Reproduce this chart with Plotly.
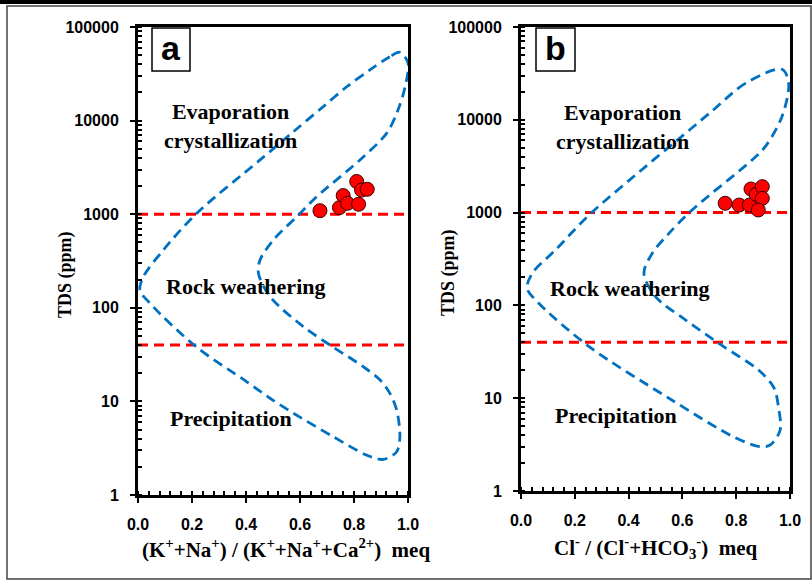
import plotly.graph_objects as go

# ---------------- data ----------------
# Panel a: Gibbs boundary (closed loop), x = (K+Na)/(K+Na+Ca), y = TDS (ppm)
gibbs_a_x = [0.970, 0.933, 0.859, 0.773, 0.685, 0.574, 0.452, 0.217, 0.094, 0.020, 0.007,
             0.044, 0.217, 0.403, 0.489, 0.575, 0.723, 0.847, 0.909, 0.958, 0.970, 0.958,
             0.933, 0.896, 0.834, 0.723, 0.612, 0.489, 0.446,
             0.452, 0.501, 0.588, 0.662, 0.822, 0.922, 0.963, 0.989, 1.000, 0.970]
gibbs_a_y = [53700, 48200, 34800, 23000, 14000, 7550, 3800, 1020, 415, 215, 155,
             112, 38, 16.2, 10.8, 7.5, 4.2, 2.67, 2.4, 2.9, 4.2, 8.1,
             12.2, 17, 23.5, 38, 63, 132, 234,
             324, 530, 940, 1540, 3800, 7400, 13000, 22900, 41200, 53700]

# Panel b: Gibbs boundary, x = Cl/(Cl+HCO3)
gibbs_b_x = [0.970, 0.834, 0.710, 0.587, 0.463, 0.253, 0.128, 0.042, 0.023,
             0.067, 0.253, 0.550, 0.789, 0.889, 0.926, 0.963, 0.957, 0.940,
             0.884, 0.747, 0.611, 0.500, 0.457,
             0.488, 0.550, 0.636, 0.859, 0.908, 0.970, 0.995, 0.970]
gibbs_b_y = [35000, 24700, 12400, 6240, 3130, 942, 395, 222, 153,
             105, 36, 10, 3.85, 3.0, 3.13, 4.5, 8.1, 13,
             20, 37, 70, 124, 222,
             364, 598, 1067, 3690, 5130, 10800, 24700, 35000]

# Samples
samples_a_x = [0.674, 0.746, 0.760, 0.776, 0.817, 0.810, 0.828, 0.849]
samples_a_y = [1090, 1175, 1580, 1308, 1276, 2235, 1810, 1846]
samples_b_x = [0.759, 0.811, 0.849, 0.855, 0.874, 0.897, 0.897, 0.882]
samples_b_y = [1260, 1205, 1205, 1795, 1575, 1905, 1425, 1067]

# Boundary lines (TDS ppm)
tds_limits = [1000, 40]

y_tickvals = [1, 10, 100, 1000, 10000, 100000]
y_ticktext = ["1", "10", "100", "1000", "10000", "100000"]
x_tickvals = [0.0, 0.2, 0.4, 0.6, 0.8, 1.0]
x_ticktext = ["0.0", "0.2", "0.4", "0.6", "0.8", "1.0"]

W, H = 812, 580
BLUE = "#0070C0"
RED = "#FF0000"
SERIF = "Liberation Serif"
SANS = "Liberation Sans"

fig = go.Figure()

for gx, gy, sx, sy, xa, ya in [
    (gibbs_a_x, gibbs_a_y, samples_a_x, samples_a_y, "x", "y"),
    (gibbs_b_x, gibbs_b_y, samples_b_x, samples_b_y, "x2", "y2"),
]:
    for lim in tds_limits:
        fig.add_trace(go.Scatter(x=[0, 1], y=[lim, lim], mode="lines",
                                 line=dict(color=RED, width=3, dash="10px,6px"),
                                 xaxis=xa, yaxis=ya, showlegend=False, hoverinfo="skip"))
    fig.add_trace(go.Scatter(x=gx, y=gy, mode="lines",
                             line=dict(color=BLUE, width=2.8, dash="10px,6px", shape="spline", smoothing=0.9),
                             xaxis=xa, yaxis=ya, showlegend=False, hoverinfo="skip", cliponaxis=False))
    fig.add_trace(go.Scatter(x=sx, y=sy, mode="markers",
                             marker=dict(color=RED, size=14, line=dict(color="#3a0000", width=1)),
                             xaxis=xa, yaxis=ya, showlegend=False))

def px_x(p):
    return p / W

def px_y(p):
    return 1 - p / H

common_x = dict(range=[0, 1], tickvals=x_tickvals, ticktext=x_ticktext, automargin=False,
                showline=True, linewidth=3, linecolor="black", mirror=True,
                ticks="outside", ticklen=5, tickwidth=2, tickcolor="black", ticklabelstandoff=8,
                minor=dict(ticks="inside", ticklen=4, tickwidth=1.5, tickcolor="black", dtick=0.04, showgrid=False),
                showgrid=False, zeroline=False,
                tickfont=dict(family=SANS, size=16, color="black", weight="bold"))
common_y = dict(type="log", range=[0, 5], tickvals=y_tickvals, ticktext=y_ticktext, automargin=False,
                showline=True, linewidth=3, linecolor="black", mirror=True,
                ticks="outside", ticklen=5, tickwidth=2, tickcolor="black", ticklabelstandoff=8,
                minor=dict(ticks="inside", ticklen=4, tickwidth=1.5, tickcolor="black", dtick="D1", showgrid=False),
                showgrid=False, zeroline=False,
                tickfont=dict(family=SANS, size=16, color="black", weight="bold"))

fig.update_layout(
    width=W, height=H, margin=dict(l=0, r=0, t=0, b=0, autoexpand=False),
    paper_bgcolor="white", plot_bgcolor="white",
    xaxis=dict(common_x, domain=[px_x(138), px_x(408)], anchor="y"),
    yaxis=dict(common_y, domain=[px_y(495), px_y(27)], anchor="x"),
    xaxis2=dict(common_x, domain=[px_x(521), px_x(790)], anchor="y2"),
    yaxis2=dict(common_y, domain=[px_y(491), px_y(27)], anchor="x2"),
)

shapes = [
    dict(type="rect", xref="paper", yref="paper", x0=px_x(7), x1=px_x(811), y0=px_y(579), y1=px_y(6),
         line=dict(color="#444444", width=1.5), fillcolor="rgba(0,0,0,0)", layer="below"),
    dict(type="rect", xref="paper", yref="paper", x0=0, x1=1, y0=px_y(4), y1=1,
         line=dict(width=0), fillcolor="black"),
    dict(type="rect", xref="paper", yref="paper", x0=px_x(152), x1=px_x(190), y0=px_y(71), y1=px_y(28),
         line=dict(color="black", width=1.5), fillcolor="white"),
    dict(type="rect", xref="paper", yref="paper", x0=px_x(536), x1=px_x(575), y0=px_y(71), y1=px_y(28),
         line=dict(color="black", width=1.5), fillcolor="white"),
]
fig.update_layout(shapes=shapes)

def note(text, x, y, size, family=SERIF, angle=0):
    return dict(text=text, xref="paper", yref="paper", x=px_x(x), y=px_y(y),
                xanchor="center", yanchor="middle", showarrow=False, textangle=angle,
                font=dict(family=family, size=size, color="black", weight="bold"))

anns = [
    note("a", 171, 48, 34, SANS),
    note("b", 555.5, 48, 34, SANS),
    note("Evaporation<br>crystallization", 230, 126, 22),
    note("Rock weathering", 245, 287, 22),
    note("Precipitation", 230.5, 418, 22),
    note("Evaporation<br>crystallization", 622, 127, 22),
    note("Rock weathering", 629, 288, 22),
    note("Precipitation", 615.5, 415, 22),
    note("TDS (ppm)", 65, 275, 18, angle=-90),
    note("TDS (ppm)", 448, 273, 18, angle=-90),
    note("(K<sup>+</sup>+Na<sup>+</sup>) / (K<sup>+</sup>+Na<sup>+</sup>+Ca<sup>2+</sup>)  meq", 285.5, 548, 21),
    note("Cl<sup>-</sup> / (Cl<sup>-</sup>+HCO<sub>3</sub><sup>-</sup>)  meq", 656, 547, 21),
]
fig.update_layout(annotations=anns)

fig.write_html("out.html", config={"displayModeBar": False},
               post_script="document.body.style.margin='0px';document.body.style.overflow='hidden';")
